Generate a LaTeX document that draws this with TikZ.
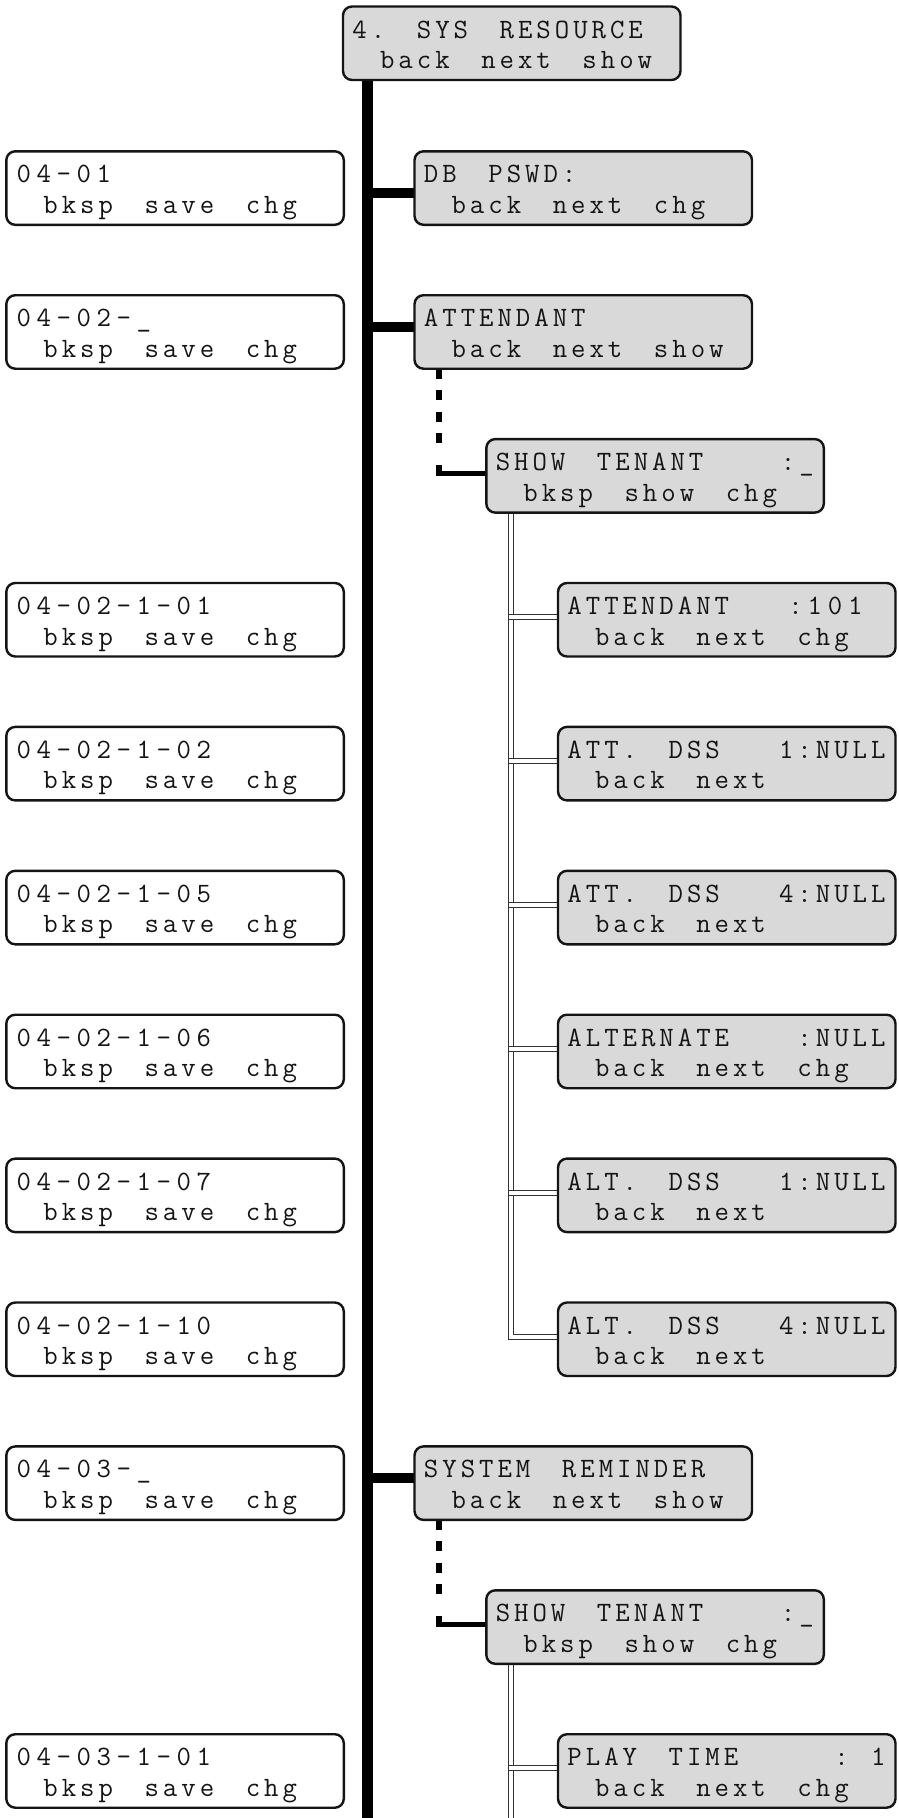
\documentclass[tikz,border=0pt]{standalone}
\usetikzlibrary{calc,backgrounds}
\definecolor{boxgray}{HTML}{D9D9D9}
\definecolor{ink}{HTML}{141414}
\newcommand\lcdwide{}
\ExplSyntaxOn
\dim_new:N \l_lcd_pitch_dim
\NewDocumentCommand \lcdline { O{18.4pt} m }
  {
    \dim_set:Nn \l_lcd_pitch_dim {#1}
    \tl_map_inline:nn {#2}
      {
        \tl_if_eq:nnTF {##1} {*}
          { \tex_kern:D 1.5 \l_lcd_pitch_dim }
          {
            \tl_if_eq:nnTF {##1} {+}
              { \tex_kern:D \l_lcd_pitch_dim }
              {
                \tl_if_eq:nnTF {##1} {!}
                  { \tex_kern:D 0.5 \l_lcd_pitch_dim }
                  {
                    \tl_if_eq:nnTF {##1} {\lcdwide}
                      { \dim_set:Nn \l_lcd_pitch_dim {20.3pt} }
                      { \hbox_to_wd:nn { \l_lcd_pitch_dim } { \hfil ##1 \hfil } }
                  }
              }
          }
      }
  }
\ExplSyntaxOff
\newcommand\lcdfont{\fontsize{28pt}{31pt}\selectfont\ttfamily}
\tikzset{
  lcd/.style={draw=ink, line width=2.4pt, rounded corners=9pt,
    minimum width=337.5pt, minimum height=73.5pt, inner sep=0pt,
    outer sep=0pt, anchor=north west},
  lcdgray/.style={lcd, fill=boxgray},
  lcdwhite/.style={lcd, fill=white},
  lcdtxt/.style={inner sep=0pt, outer sep=0pt, anchor=base west,
    font=\lcdfont, text=ink},
  mainline/.style={draw=black, line width=10.5pt},
  branch/.style={draw=black, line width=10pt},
  dashline/.style={draw=black, line width=5.5pt, dash pattern=on 10pt off 11.5pt},
  subline/.style={draw=black, line width=5.5pt},
  dbl/.style={draw=black!80, double=white, line width=1pt, double distance=4pt},
}
\newcommand\lcdbox[6]{%
  \node[#1] (#2) at (#3,#4) {};
  \node[lcdtxt] (#2-a) at ($(#2.north west)+(7.5,31.5)$) {#5};
  \node[lcdtxt] (#2-b) at ($(#2.north west)+(7.5,62)$) {#6};
}
\begin{document}
\begin{tikzpicture}[x=1pt,y=-1pt]
\useasboundingbox (0,0) rectangle (898,1818);
% top
\lcdbox{lcdgray}{top}{343}{6.5}{\lcdline{4.*SYS*RESOURCE}}{\lcdline{*back*next*show}}
% left column
\lcdbox{lcdwhite}{l0}{6.3}{151.3}{\lcdline[20pt]{04-01}}{\lcdline{*bksp*save*chg}}
\lcdbox{lcdwhite}{l1}{6.3}{295.2}{\lcdline[20pt]{04-02-\_}}{\lcdline{*bksp*save*chg}}
\lcdbox{lcdwhite}{l3}{6.3}{583.0}{\lcdline[20pt]{04-02-1-01}}{\lcdline{*bksp*save*chg}}
\lcdbox{lcdwhite}{l4}{6.3}{726.9}{\lcdline[20pt]{04-02-1-02}}{\lcdline{*bksp*save*chg}}
\lcdbox{lcdwhite}{l5}{6.3}{870.8}{\lcdline[20pt]{04-02-1-05}}{\lcdline{*bksp*save*chg}}
\lcdbox{lcdwhite}{l6}{6.3}{1014.7}{\lcdline[20pt]{04-02-1-06}}{\lcdline{*bksp*save*chg}}
\lcdbox{lcdwhite}{l7}{6.3}{1158.6}{\lcdline[20pt]{04-02-1-07}}{\lcdline{*bksp*save*chg}}
\lcdbox{lcdwhite}{l8}{6.3}{1302.5}{\lcdline[20pt]{04-02-1-10}}{\lcdline{*bksp*save*chg}}
\lcdbox{lcdwhite}{l9}{6.3}{1446.4}{\lcdline[20pt]{04-03-\_}}{\lcdline{*bksp*save*chg}}
\lcdbox{lcdwhite}{l11}{6.3}{1734.2}{\lcdline[20pt]{04-03-1-01}}{\lcdline{*bksp*save*chg}}
% main branch column
\lcdbox{lcdgray}{dbpswd}{414.5}{151.3}{\lcdline{DB*PSWD:}}{\lcdline{*back*next*chg}}
\lcdbox{lcdgray}{att}{414.5}{295.2}{\lcdline{ATTENDANT}}{\lcdline{*back*next*show}}
\lcdbox{lcdgray}{sysrem}{414.5}{1446.4}{\lcdline{SYSTEM*REMINDER}}{\lcdline{*back*next*show}}
% show tenant
\lcdbox{lcdgray}{show1}{486.3}{439.1}{\lcdline{SHOW*TENANT**+:\_}}{\lcdline{*bksp*show*chg}}
\lcdbox{lcdgray}{show2}{486.3}{1590.3}{\lcdline{SHOW*TENANT**+:\_}}{\lcdline{*bksp*show*chg}}
% leaves
\lcdbox{lcdgray}{d3}{558}{583.0}{\lcdline{ATTENDANT**:\lcdwide 101}}{\lcdline{*back*next*chg}}
\lcdbox{lcdgray}{d4}{558}{726.9}{\lcdline{ATT.*DSS**1:NULL}}{\lcdline{*back*next}}
\lcdbox{lcdgray}{d5}{558}{870.8}{\lcdline{ATT.*DSS**4:NULL}}{\lcdline{*back*next}}
\lcdbox{lcdgray}{d6}{558}{1014.7}{\lcdline{ALTERNATE**!:NULL}}{\lcdline{*back*next*chg}}
\lcdbox{lcdgray}{d7}{558}{1158.6}{\lcdline{ALT.*DSS**1:NULL}}{\lcdline{*back*next}}
\lcdbox{lcdgray}{d8}{558}{1302.5}{\lcdline{ALT.*DSS**4:NULL}}{\lcdline{*back*next}}
\lcdbox{lcdgray}{d11}{558}{1734.2}{\lcdline{PLAY*TIME***!:+1}}{\lcdline{*back*next*chg}}

\begin{scope}[on background layer]
  \fill[white] (0,0) rectangle (898,1818);
  % main trunk
  \coordinate (mtop) at ($(top.south west)+(24.7,0)$);
  \coordinate (mbot) at (367.7,1818);
  \draw[mainline] (mtop) -- (mbot);
  \coordinate (j0) at ($(dbpswd.north west)+(0,42)$);
  \coordinate (j1) at ($(att.north west)+(0,31.5)$);
  \coordinate (j9) at ($(sysrem.north west)+(0,31.5)$);
  \draw[branch] (mtop |- j0) -- (j0);
  \draw[branch] (mtop |- j1) -- (j1);
  \draw[branch] (mtop |- j9) -- (j9);
  % dashed links
  \coordinate (a1) at ($(att.south west)+(24.5,0)$);
  \coordinate (c1) at ($(show1.north west)+(0,34.4)$);
  \coordinate (k1) at (a1 |- c1);
  \draw[dashline] (a1) -- ($(k1)+(0,-27)$);
  \draw[subline] ($(k1)+(0,-9)$) -- (k1) -- (c1);
  \coordinate (a2) at ($(sysrem.south west)+(24.5,0)$);
  \coordinate (c2) at ($(show2.north west)+(0,34.4)$);
  \coordinate (k2) at (a2 |- c2);
  \draw[dashline] (a2) -- ($(k2)+(0,-27)$);
  \draw[subline] ($(k2)+(0,-9)$) -- (k2) -- (c2);
  % double trunks
  \coordinate (s1) at ($(show1.south west)+(24.7,0)$);
  \foreach \n in {3,...,8}{\coordinate (e\n) at ($(d\n.north west)+(0,34)$);}
  \draw[dbl] (s1) |- (e8);
  \foreach \n in {3,...,7}{
    \coordinate (h\n) at (s1 |- e\n);
    \draw[dbl] ($(h\n)+(-2,0)$) -- (e\n);
  }
  \coordinate (s2) at ($(show2.south west)+(24.7,0)$);
  \coordinate (s2b) at (s2 |- mbot);
  \draw[dbl] (s2) -- (s2b);
  \coordinate (e11) at ($(d11.north west)+(0,34)$);
  \coordinate (h11) at (s2 |- e11);
  \draw[dbl] ($(h11)+(-2,0)$) -- (e11);
\end{scope}
\end{tikzpicture}
\end{document}
